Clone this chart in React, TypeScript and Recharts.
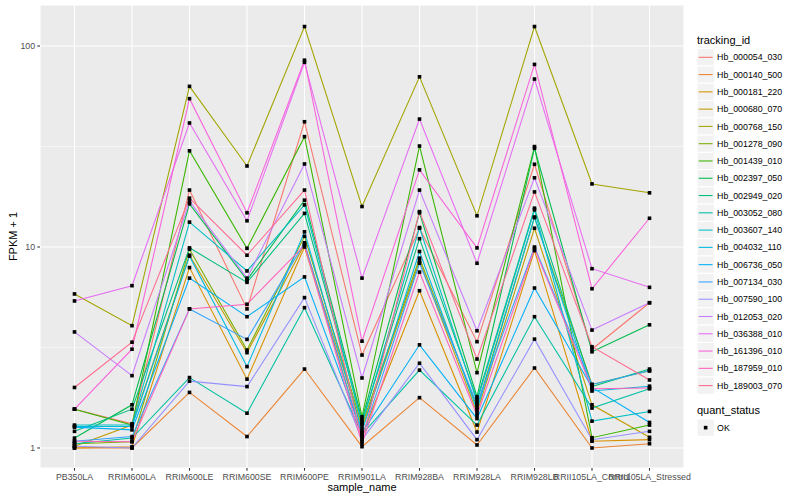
import React from 'react';
import { LineChart, Line, XAxis, YAxis, CartesianGrid } from 'recharts';

const categories = [
  'PB350LA', 'RRIM600LA', 'RRIM600LE', 'RRIM600SE', 'RRIM600PE', 'RRIM901LA',
  'RRIM928BA', 'RRIM928LA', 'RRIM928LB', 'RRII105LA_Control', 'RRII105LA_Stressed',
];

const trackingIds = [
  'Hb_000054_030', 'Hb_000140_500', 'Hb_000181_220', 'Hb_000680_070', 'Hb_000768_150',
  'Hb_001278_090', 'Hb_001439_010', 'Hb_002397_050', 'Hb_002949_020', 'Hb_003052_080',
  'Hb_003607_140', 'Hb_004032_110', 'Hb_006736_050', 'Hb_007134_030', 'Hb_007590_100',
  'Hb_012053_020', 'Hb_036388_010', 'Hb_161396_010', 'Hb_187959_010', 'Hb_189003_070',
];

const colors = [
  '#F8766D', '#EA8331', '#D89000', '#C09B00', '#A3A500', '#7CAE00', '#39B600', '#00BB4E',
  '#00BF7D', '#00C1A3', '#00BFC4', '#00BAE0', '#00B0F6', '#35A2FF', '#9590FF', '#C77CFF',
  '#E76BF3', '#FA62DB', '#FF62BC', '#FF6C91',
];

// FPKM + 1 values, one array per tracking_id, in category order
const hb_000054_030 = [1.56, 1.32, 19.2, 4.92, 42, 2.9, 12.4, 3.38, 25.8, 3.1, 5.28];
const hb_000140_500 = [1.0, 1.0, 1.89, 1.14, 2.47, 1.015, 1.78, 1.035, 2.5, 1.0, 1.05];
const hb_000181_220 = [1.0, 1.015, 7.9, 2.2, 10.0, 1.15, 6.06, 1.2, 9.6, 1.08, 1.1];
const hb_000680_070 = [1.02, 1.3, 9.1, 2.98, 10.3, 1.25, 8.5, 1.5, 12.4, 1.64, 1.13];
const hb_000768_150 = [5.84, 4.06, 63, 25.3, 125, 15.9, 70.3, 14.3, 125, 20.6, 18.6];
const hb_001278_090 = [1.05, 1.075, 9.75, 3.07, 11.3, 1.3, 8.8, 1.6, 14.0, 2.07, 2.42];
const hb_001439_010 = [1.56, 1.3, 30.1, 9.85, 35.4, 1.43, 31.8, 2.37, 31.6, 1.125, 1.3];
const hb_002397_050 = [1.12, 1.64, 16.4, 6.85, 17.1, 1.39, 14.8, 1.8, 31.0, 3.01, 4.1];
const hb_002949_020 = [1.21, 1.56, 9.9, 6.67, 14.7, 1.35, 11.0, 1.75, 15.6, 2.02, 2.47];
const hb_003052_080 = [1.05, 1.12, 2.24, 1.49, 4.99, 1.17, 2.44, 1.3, 4.5, 1.58, 1.97];
const hb_003607_140 = [1.3, 1.3, 13.3, 7.6, 16.2, 1.32, 12.5, 1.7, 15.3, 1.36, 1.52];
const hb_004032_110 = [1.28, 1.28, 9.0, 2.54, 11.9, 1.21, 9.5, 1.55, 14.1, 1.92, 2.03];
const hb_006736_050 = [1.27, 1.23, 7.0, 4.5, 7.1, 1.19, 3.26, 1.4, 6.25, 2.0, 1.34];
const hb_007134_030 = [1.08, 1.14, 4.92, 3.47, 10.5, 1.13, 8.3, 1.65, 10.0, 2.07, 2.42];
const hb_007590_100 = [1.02, 1.0, 2.15, 2.02, 5.6, 1.1, 2.64, 1.1, 3.48, 1.1, 1.21];
const hb_012053_020 = [3.78, 2.29, 16.9, 7.0, 25.9, 2.23, 19.2, 3.83, 22.1, 3.86, 5.28];
const hb_036388_010 = [5.39, 6.42, 41.4, 13.5, 83, 7.0, 43.3, 8.3, 68.5, 7.8, 6.3];
const hb_161396_010 = [1.56, 3.1, 54.7, 14.8, 85, 3.4, 24.2, 9.9, 81, 6.2, 13.9];
const hb_187959_010 = [1.08, 1.075, 4.92, 5.19, 10.2, 1.05, 7.5, 1.45, 9.85, 1.97, 1.99];
const hb_189003_070 = [2.0, 3.36, 17.5, 9.1, 19.2, 1.08, 15.0, 2.77, 18.8, 3.19, 2.18];

const seriesValues = [
  hb_000054_030, hb_000140_500, hb_000181_220, hb_000680_070, hb_000768_150,
  hb_001278_090, hb_001439_010, hb_002397_050, hb_002949_020, hb_003052_080,
  hb_003607_140, hb_004032_110, hb_006736_050, hb_007134_030, hb_007590_100,
  hb_012053_020, hb_036388_010, hb_161396_010, hb_187959_010, hb_189003_070,
];

const yTicks = [1, 10, 100];
const yMinorTicks = [3.16228, 31.6228];
const yDomain = [0.795, 160];

const quantStatus = ['OK'];

const data = categories.map((c, i) => {
  const row: Record<string, any> = { sample_name: c };
  trackingIds.forEach((id, s) => {
    row[id] = seriesValues[s][i];
  });
  return row;
});

const SquareDot = (props: any) => {
  const { cx, cy, index, dataKey } = props;
  if (cx == null || cy == null) return <g key={`d-${dataKey}-${index}`} />;
  return (
    <rect
      key={`d-${dataKey}-${index}`}
      x={cx - 1.8}
      y={cy - 1.8}
      width={3.6}
      height={3.6}
      fill="#000000"
    />
  );
};

const FONT = '"Liberation Sans", Arial, Helvetica, sans-serif';

export default function App() {
  const legendX = 697;
  const keySize = 17.28;
  const firstKeyTop = 48.66;
  const qsKeyTop = 419;

  return (
    <div
      style={{
        position: 'absolute',
        left: 0,
        top: 0,
        width: 800,
        height: 500,
        background: '#FFFFFF',
        fontFamily: FONT,
      }}
    >
      <LineChart
        width={800}
        height={500}
        data={data}
        margin={{ top: 5, right: 116, bottom: 0, left: 0 }}
      >
        <CartesianGrid stroke="#FFFFFF" strokeWidth={1.07} fill="#EBEBEB" fillOpacity={1} />
        <CartesianGrid
          stroke="#FFFFFF"
          strokeWidth={0.53}
          vertical={false}
          horizontalValues={yMinorTicks}
        />
        <XAxis
          dataKey="sample_name"
          type="category"
          interval={0}
          padding={{ left: 34.5, right: 34.5 }}
          height={32}
          axisLine={false}
          tickLine={{ stroke: '#333333', strokeWidth: 1.07 }}
          tickSize={2.7}
          tickMargin={3.5}
          tick={{ fill: '#4D4D4D', fontSize: 8.8, fontFamily: FONT }}
        />
        <YAxis
          type="number"
          scale="log"
          domain={yDomain}
          allowDataOverflow
          ticks={yTicks}
          width={40}
          axisLine={false}
          tickLine={{ stroke: '#333333', strokeWidth: 1.07 }}
          tickSize={2.7}
          tickMargin={2.2}
          tick={{ fill: '#4D4D4D', fontSize: 8.8, fontFamily: FONT }}
        />
        {trackingIds.map((id, s) => (
          <Line
            key={`l-${id}`}
            dataKey={id}
            type="linear"
            stroke={colors[s]}
            strokeWidth={1.07}
            dot={false}
            activeDot={false}
            isAnimationActive={false}
          />
        ))}
        {trackingIds.map((id) => (
          <Line
            key={`p-${id}`}
            dataKey={id}
            type="linear"
            stroke="none"
            strokeOpacity={0}
            dot={SquareDot}
            activeDot={false}
            legendType="none"
            isAnimationActive={false}
          />
        ))}
      </LineChart>

      <svg
        width={800}
        height={500}
        style={{ position: 'absolute', left: 0, top: 0, pointerEvents: 'none' }}
        fontFamily={FONT}
      >
        <text
          x={0}
          y={0}
          transform="translate(17.2,236.5) rotate(-90)"
          textAnchor="middle"
          fontSize={11}
          fill="#000000"
        >
          FPKM + 1
        </text>
        <text x={362} y={491} textAnchor="middle" fontSize={11} fill="#000000">
          sample_name
        </text>

        <text x={legendX} y={44} fontSize={11} fill="#000000">
          tracking_id
        </text>
        {trackingIds.map((id, i) => {
          const top = firstKeyTop + i * keySize;
          const cy = top + keySize / 2;
          return (
            <g key={`lg-${id}`}>
              <rect
                x={legendX}
                y={top}
                width={keySize}
                height={keySize}
                fill="#F2F2F2"
                stroke="#FFFFFF"
                strokeWidth={1.07}
              />
              <line
                x1={legendX + 1.7}
                x2={legendX + keySize - 1.7}
                y1={cy}
                y2={cy}
                stroke={colors[i]}
                strokeWidth={1.07}
              />
              <text x={legendX + keySize + 2.8} y={cy + 3.1} fontSize={8.8} fill="#000000">
                {id}
              </text>
            </g>
          );
        })}

        <text x={legendX} y={414} fontSize={11} fill="#000000">
          quant_status
        </text>
        {quantStatus.map((q, i) => {
          const top = qsKeyTop + i * keySize;
          const cy = top + keySize / 2;
          return (
            <g key={`qs-${q}`}>
              <rect
                x={legendX}
                y={top}
                width={keySize}
                height={keySize}
                fill="#F2F2F2"
                stroke="#FFFFFF"
                strokeWidth={1.07}
              />
              <rect
                x={legendX + keySize / 2 - 1.8}
                y={cy - 1.8}
                width={3.6}
                height={3.6}
                fill="#000000"
              />
              <text x={legendX + keySize + 2.8} y={cy + 3.1} fontSize={8.8} fill="#000000">
                {q}
              </text>
            </g>
          );
        })}
      </svg>
    </div>
  );
}
